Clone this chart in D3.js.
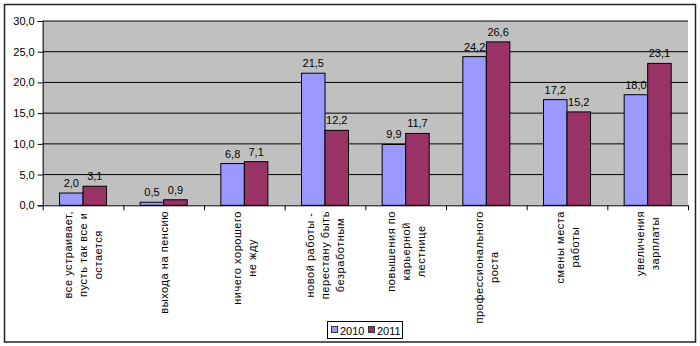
<!DOCTYPE html>
<html><head><meta charset="utf-8">
<script src="https://cdn.jsdelivr.net/npm/d3@7"></script>
<style>
body{margin:0;background:#fff;}
text{font-family:"Liberation Sans",Arial,sans-serif;}
</style></head>
<body><svg id="c" width="700" height="346"></svg>
<script>
const categories = [
  ["все устраивает,", "пусть так все и", "остается"],
  ["выхода на пенсию"],
  ["ничего хорошего", "не жду"],
  ["новой работы -", "перестану быть", "безработным"],
  ["повышения по", "карьерной", "лестнице"],
  ["профессионального", "роста"],
  ["смены места", "работы"],
  ["увеличения", "зарплаты"]
];
const seriesNames = ["2010", "2011"];
const values2010 = [2.0, 0.5, 6.8, 21.5, 9.9, 24.2, 17.2, 18.0];
const values2011 = [3.1, 0.9, 7.1, 12.2, 11.7, 26.6, 15.2, 23.1];
const yTicks = [0, 5, 10, 15, 20, 25, 30];
const colors = ["#9999FF", "#993366"];

const svg = d3.select("#c");
const m = {left: 42.7, right: 688, top: 21, bottom: 205.3};
const fmt = v => d3.format(".1f")(v).replace(".", ",");

svg.append("rect").attr("x", 4.5).attr("y", 4.5).attr("width", 691).attr("height", 337.5)
  .attr("fill", "#fff").attr("stroke", "#222").attr("stroke-width", 1.5);

const idx = d3.range(categories.length);
const x0 = d3.scaleBand().domain(idx).range([m.left, m.right]).padding(0);
const bw = 23.5;
const pad = (x0.bandwidth() - 2 * bw) / 2;
const x1 = d3.scaleBand().domain(seriesNames).range([pad, pad + 2 * bw]).padding(0);
const y = d3.scaleLinear().domain([0, 30]).range([m.bottom, m.top]);

svg.append("rect").attr("x", m.left).attr("y", m.top)
  .attr("width", m.right - m.left).attr("height", m.bottom - m.top).attr("fill", "#C0C0C0");

const data = idx.map(i => seriesNames.map((s, j) => ({i, s, j, v: j === 0 ? values2010[i] : values2011[i]})));

// value labels (drawn below gridlines as in original)
const lab = svg.append("g");
data.flat().forEach(d => {
  lab.append("text").attr("x", x0(d.i) + x1(d.s) + x1.bandwidth() / 2).attr("y", y(d.v) - 6)
    .attr("text-anchor", "middle").attr("font-size", 11).attr("fill", "#000").text(fmt(d.v));
});

// gridlines
svg.append("g").selectAll("line").data(yTicks.filter(t => t > 0)).join("line")
  .attr("x1", m.left).attr("x2", m.right).attr("y1", d => y(d)).attr("y2", d => y(d))
  .attr("stroke", "#000").attr("stroke-width", 1);

// bars
svg.append("g").selectAll("rect").data(data.flat()).join("rect")
  .attr("x", d => x0(d.i) + x1(d.s)).attr("y", d => y(d.v))
  .attr("width", x1.bandwidth()).attr("height", d => y(0) - y(d.v))
  .attr("fill", d => colors[d.j]).attr("stroke", "#000").attr("stroke-width", 1);

// y axis
const yAxis = d3.axisLeft(y).tickValues(yTicks).tickFormat(fmt).tickSize(5).tickPadding(3);
const ga = svg.append("g").attr("transform", `translate(${m.left},0)`).call(yAxis);
ga.select(".domain").attr("stroke", "#000");
ga.selectAll("text").attr("font-size", 11).attr("fill", "#000").attr("font-family", '"Liberation Sans",Arial,sans-serif');

// x axis
const xAxis = d3.axisBottom(d3.scaleLinear().domain([0, categories.length]).range([m.left, m.right]))
  .tickValues(d3.range(categories.length + 1)).tickFormat("").tickSize(5).tickSizeOuter(0);
const gx = svg.append("g").attr("transform", `translate(0,${m.bottom})`).call(xAxis);
gx.select(".domain").attr("stroke", "#000");

// category labels (rotated, wrapped lines centered)
const labelTop = 211;
categories.forEach((lines, i) => {
  const cx = x0(i) + x0.bandwidth() / 2;
  const g = svg.append("g").attr("transform", `translate(${cx},${labelTop}) rotate(-90)`);
  const texts = lines.map((l, k) => g.append("text").attr("font-size", 11).attr("fill", "#000")
    .attr("letter-spacing", 0.55)
    .attr("text-anchor", "middle").attr("y", (k - (lines.length - 1) / 2) * 15 + 4).text(l));
  const maxLen = d3.max(texts, t => t.node().getComputedTextLength());
  texts.forEach(t => t.attr("x", -maxLen / 2));
});

// legend
const lg = svg.append("g");
lg.append("rect").attr("x", 327.5).attr("y", 321.5).attr("width", 75).attr("height", 17)
  .attr("fill", "#fff").attr("stroke", "#000");
const lx = [331, 368];
seriesNames.forEach((s, j) => {
  lg.append("rect").attr("x", lx[j] + 0.5).attr("y", 326.5).attr("width", 6).attr("height", 6)
    .attr("fill", colors[j]).attr("stroke", "#333");
  lg.append("text").attr("x", lx[j] + 9).attr("y", 334.5).attr("font-size", 11).attr("fill", "#000").text(s);
});
</script></body></html>
